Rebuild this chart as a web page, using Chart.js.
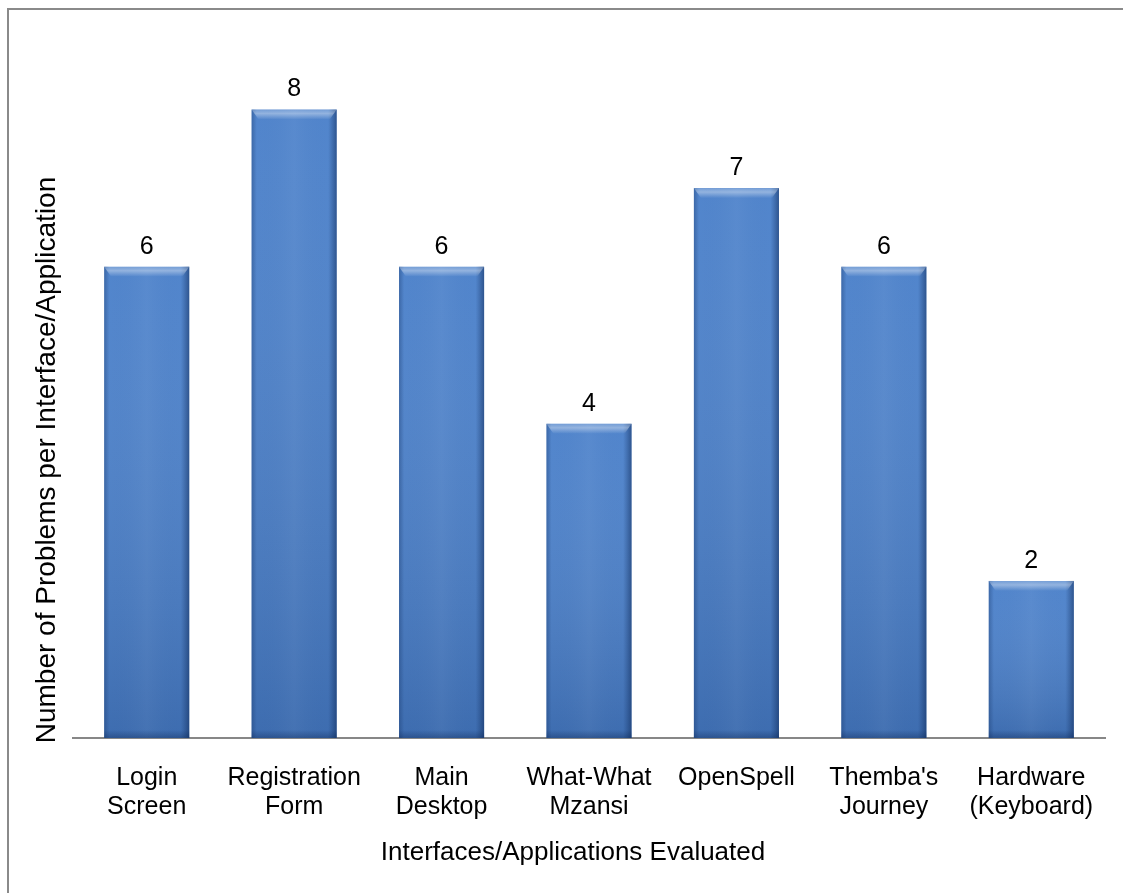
<!DOCTYPE html>
<html>
<head>
<meta charset="utf-8">
<script src="https://cdn.jsdelivr.net/npm/chart.js@4.4.0/dist/chart.umd.min.js"></script>
<style>
html,body{margin:0;padding:0;background:#fff;}
#wrap{position:absolute;left:0;top:0;width:1123px;height:893px;}
</style>
</head>
<body>
<div id="wrap"><canvas id="c" width="1123" height="893"></canvas></div>
<script>
const categories = [["Login","Screen"],["Registration","Form"],["Main","Desktop"],["What-What","Mzansi"],["OpenSpell"],["Themba's","Journey"],["Hardware","(Keyboard)"]];
const problemCounts = [6, 8, 6, 4, 7, 6, 2];
const xAxisTitle = "Interfaces/Applications Evaluated";
const yAxisTitle = "Number of Problems per Interface/Application";
const yMin = 0, yMax = 9;

const FONT = "'Liberation Sans', Arial, sans-serif";

const decor = {
  id: 'decor',
  beforeDraw(chart) {
    const ctx = chart.ctx;
    ctx.save();
    ctx.fillStyle = '#fff';
    ctx.fillRect(0, 0, chart.width, chart.height);
    ctx.strokeStyle = '#8a8a8a';
    ctx.lineWidth = 2;
    ctx.beginPath();
    ctx.moveTo(8, chart.height + 5);
    ctx.lineTo(8, 9);
    ctx.lineTo(chart.width + 5, 9);
    ctx.stroke();
    ctx.restore();
  },
  afterDatasetsDraw(chart) {
    const ctx = chart.ctx;
    const meta = chart.getDatasetMeta(0);
    ctx.save();
    meta.data.forEach((bar, i) => {
      const w = bar.width, l = bar.x - w / 2, r = bar.x + w / 2, t = bar.y, b = bar.base;
      let gv = ctx.createLinearGradient(0, t, 0, b);
      gv.addColorStop(0, 'rgba(255,255,255,0.04)');
      gv.addColorStop(1, 'rgba(10,30,70,0.2)');
      ctx.fillStyle = gv;
      ctx.fillRect(l, t, w, b - t);
      let g = ctx.createLinearGradient(l, 0, r, 0);
      g.addColorStop(0, 'rgba(20,50,100,0.35)');
      g.addColorStop(0.06, 'rgba(20,50,100,0.0)');
      g.addColorStop(0.5, 'rgba(255,255,255,0.04)');
      g.addColorStop(0.9, 'rgba(20,50,100,0.0)');
      g.addColorStop(1, 'rgba(10,35,80,0.5)');
      ctx.fillStyle = g;
      ctx.fillRect(l, t, w, b - t);
      const bh = 10;
      let g2 = ctx.createLinearGradient(0, t, 0, t + bh);
      g2.addColorStop(0, 'rgba(255,255,255,0.2)');
      g2.addColorStop(0.4, 'rgba(255,255,255,0.38)');
      g2.addColorStop(1, 'rgba(255,255,255,0.0)');
      ctx.fillStyle = g2;
      ctx.beginPath();
      ctx.moveTo(l, t);
      ctx.lineTo(r, t);
      ctx.lineTo(r - 7, t + bh);
      ctx.lineTo(l + 7, t + bh);
      ctx.closePath();
      ctx.fill();
      let g3 = ctx.createLinearGradient(0, b - 8, 0, b);
      g3.addColorStop(0, 'rgba(10,35,80,0)');
      g3.addColorStop(1, 'rgba(10,35,80,0.35)');
      ctx.fillStyle = g3;
      ctx.fillRect(l, b - 8, w, 8);
      ctx.fillStyle = '#000';
      ctx.font = '25px ' + FONT;
      ctx.textAlign = 'center';
      ctx.textBaseline = 'middle';
      ctx.fillText(String(problemCounts[i]), bar.x, t - 20);
    });
    ctx.fillStyle = '#000';
    ctx.textAlign = 'center';
    ctx.textBaseline = 'middle';
    ctx.font = '26px ' + FONT;
    ctx.fillText(xAxisTitle, 573, 853);
    ctx.font = '28px ' + FONT;
    ctx.translate(47, 460);
    ctx.rotate(-Math.PI / 2);
    ctx.fillText(yAxisTitle, 0, 0);
    ctx.restore();
  }
};

new Chart(document.getElementById('c'), {
  type: 'bar',
  data: {
    labels: categories,
    datasets: [{
      data: problemCounts,
      backgroundColor: '#4a80ca',
      borderWidth: 0,
      categoryPercentage: 1.0,
      barPercentage: 0.577
    }]
  },
  options: {
    responsive: false,
    animation: false,
    devicePixelRatio: 1,
    layout: { padding: { left: 73, right: 18, top: 31, bottom: 0 } },
    plugins: { legend: { display: false }, tooltip: { enabled: false } },
    scales: {
      x: {
        grid: { display: false, drawTicks: false },
        border: { display: true, color: '#878787', width: 2 },
        ticks: { color: '#000', font: { family: FONT, size: 25, lineHeight: 1.16 }, padding: 26, maxRotation: 0, autoSkip: false },
        afterFit(scale) { scale.height = 155; }
      },
      y: {
        display: false,
        min: yMin, max: yMax,
        afterFit(scale) { scale.width = 0; }
      }
    }
  },
  plugins: [decor]
});
</script>
</body>
</html>
